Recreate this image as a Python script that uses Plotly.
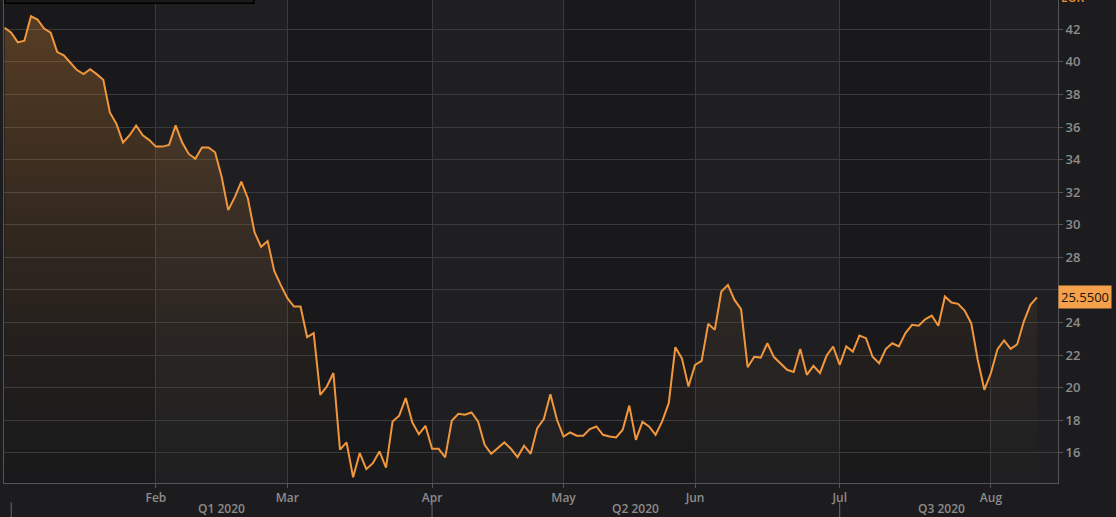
import pandas as pd
import plotly.graph_objects as go

# ---- data -------------------------------------------------------------
holidays = ["2020-01-01", "2020-04-10", "2020-04-13", "2020-05-01"]
trading_days = [d.strftime("%Y-%m-%d") for d in pd.bdate_range("2019-12-31", "2020-08-12")
                if d.strftime("%Y-%m-%d") not in holidays]

close = [
    42.10, 41.80, 41.20, 41.30, 42.80, 42.60, 42.05, 41.80, 40.60, 40.40,
    39.95, 39.50, 39.25, 39.55, 39.25, 38.90, 36.90, 36.20, 35.05, 35.50,
    36.10, 35.50, 35.20, 34.80, 34.80, 34.90, 36.10, 35.05, 34.35, 34.05,
    34.75, 34.75, 34.45, 32.95, 30.90, 31.70, 32.65, 31.60, 29.55, 28.65,
    29.00, 27.17, 26.30, 25.50, 24.98, 24.98, 23.10, 23.35, 19.56, 20.07,
    20.90, 16.20, 16.64, 14.50, 15.99, 15.00, 15.37, 16.09, 15.10, 17.93,
    18.28, 19.36, 17.87, 17.15, 17.66, 16.25, 16.25, 15.72, 17.97, 18.40,
    18.34, 18.48, 17.93, 16.50, 15.94, 16.30, 16.64, 16.25, 15.74, 16.44,
    15.94, 17.52, 18.07, 19.60, 18.03, 17.00, 17.25, 17.05, 17.05, 17.46,
    17.62, 17.11, 17.00, 16.95, 17.42, 18.90, 16.80, 17.90, 17.62, 17.11,
    17.93, 19.05, 22.49, 21.80, 20.07, 21.40, 21.65, 23.92, 23.55, 25.90,
    26.31, 25.39, 24.82, 21.26, 21.90, 21.85, 22.73, 21.88, 21.47, 21.10,
    20.96, 22.37, 20.79, 21.34, 20.90, 21.96, 22.53, 21.40, 22.53, 22.22,
    23.20, 23.04, 21.90, 21.50, 22.37, 22.73, 22.53, 23.35, 23.86, 23.80,
    24.20, 24.43, 23.80, 25.60, 25.23, 25.15, 24.74, 23.96, 21.70, 19.87,
    20.90, 22.37, 22.90, 22.39, 22.67, 24.06, 25.09, 25.55,
]

month_names = ["Feb", "Mar", "Apr", "May", "Jun", "Jul", "Aug"]
month_keys = ["2020-02", "2020-03", "2020-04", "2020-05", "2020-06", "2020-07", "2020-08"]
quarter_labels = ["Q1 2020", "Q2 2020", "Q3 2020"]
quarter_keys = [["2020-01", "2020-02", "2020-03"], ["2020-04", "2020-05", "2020-06"],
                ["2020-07", "2020-08", "2020-09"]]
currency = "EUR"
last_label = "25.5500"

# ---- derived positions from categories --------------------------------
def first_idx(key):
    return next(i for i, d in enumerate(trading_days) if d.startswith(key))

month_idx = [first_idx(k) for k in month_keys]
month_vals = [trading_days[i] for i in month_idx]

LINE = "#f0973e"
GRID = "#3a3a3c"
AXIS = "#555557"
TXT = "#8c8c8c"
XMAX = len(trading_days) + 2.2
YMIN, YMAX = 14.15, 43.8

fig = go.Figure()
fig.add_trace(go.Scatter(
    x=trading_days, y=close, mode="lines",
    line=dict(color=LINE, width=2),
    fill="tozeroy",
    fillgradient=dict(
        type="vertical", start=YMIN, stop=YMAX,
        colorscale=[[0, "rgba(240,150,58,0.0)"], [0.25, "rgba(240,150,58,0.04)"],
                    [0.5, "rgba(240,150,58,0.11)"], [0.75, "rgba(240,150,58,0.20)"],
                    [1, "rgba(240,150,58,0.30)"]],
    ),
    hoverinfo="skip", showlegend=False,
))

shapes = []
# alternating month bands (lighter for Feb, Apr, Jun, Aug)
bounds = [-0.1] + month_idx + [XMAX]
for k in range(len(bounds) - 1):
    if k % 2 == 1:
        shapes.append(dict(type="rect", xref="x", yref="paper", x0=bounds[k], x1=bounds[k + 1],
                           y0=0, y1=1, fillcolor="#1f1f21", line_width=0, layer="below"))
# quarter separators below axis
for q in quarter_keys:
    i = first_idx(q[0])
    shapes.append(dict(type="line", xref="x", yref="paper", x0=i, x1=i, y0=-0.072, y1=-0.04,
                       line=dict(color="#6a6a6a", width=1)))
# small dark box at top-left
shapes.append(dict(type="rect", xref="paper", yref="paper", x0=0.001, x1=0.2372, y0=0.9935, y1=1.02,
                   fillcolor="#19191a", line=dict(color="#000000", width=1.5)))

annotations = []
for q, lab in zip(quarter_keys, quarter_labels):
    idxs = [i for i, d in enumerate(trading_days) if d[:7] in q]
    annotations.append(dict(x=(idxs[0] + idxs[-1]) / 2 + 0.5, y=-0.052, xref="x", yref="paper",
                            text=lab, showarrow=False, yanchor="middle",
                            font=dict(family="Open Sans", size=12, color=TXT, weight=600)))
annotations.append(dict(x=1, y=close[-1], xref="paper", yref="y", text=last_label, showarrow=False,
                        xanchor="left", yanchor="middle", bgcolor="#f5a04a", borderpad=2,
                        font=dict(family="Open Sans", size=13, color="#1a1208")))
annotations.append(dict(x=1, y=1, xref="paper", yref="paper", text=currency, showarrow=False,
                        xanchor="left", xshift=1, yanchor="middle", yshift=3,
                        font=dict(family="Open Sans", size=12, color="#e8913a", weight=600)))

fig.update_layout(
    width=1116, height=517,
    margin=dict(l=4, r=58, t=0, b=34),
    paper_bgcolor="#1c1c1e", plot_bgcolor="#19191b",
    shapes=shapes, annotations=annotations,
    xaxis=dict(type="category", range=[-0.1, XMAX], tickmode="array",
               tickvals=month_vals, ticktext=month_names,
               showgrid=True, gridcolor=GRID, gridwidth=1,
               showline=True, linecolor=AXIS, linewidth=1, mirror=True,
               ticks="outside", ticklen=4, tickcolor=AXIS,
               tickfont=dict(family="Open Sans", size=12, color=TXT, weight=600),
               zeroline=False, fixedrange=True),
    yaxis=dict(side="right", range=[YMIN, YMAX], tick0=0, dtick=2,
               showgrid=True, gridcolor=GRID, gridwidth=1,
               showline=True, linecolor=AXIS, linewidth=1, mirror=True,
               ticks="outside", ticklen=4, tickcolor=AXIS,
               tickfont=dict(family="Open Sans", size=13, color=TXT, weight=600),
               zeroline=False, fixedrange=True),
    hovermode=False,
)

fig.write_html("out.html", config={"displayModeBar": False},
               post_script="document.body.style.margin='0';document.body.style.background='#1c1c1e';")
